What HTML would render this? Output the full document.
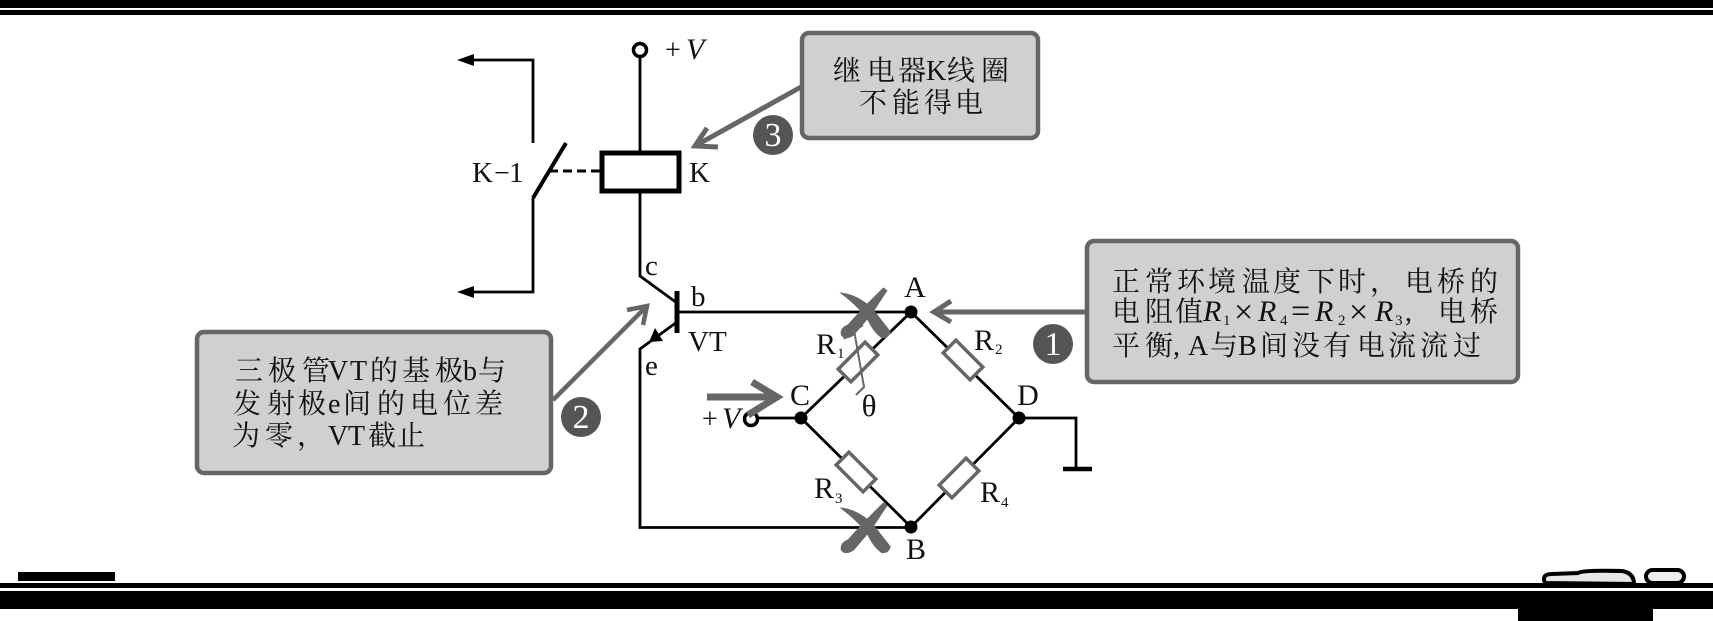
<!DOCTYPE html>
<html><head><meta charset="utf-8"><style>
html,body{margin:0;padding:0;background:#fff}
svg{display:block}
text{font-family:"Liberation Serif","Noto Serif CJK SC",serif;font-size:28px;fill:#111}
.w{fill:none;stroke:#000;stroke-width:2.8}
.g{fill:none;stroke:#666;stroke-width:5}
.box{fill:#d0d0d0;stroke:#666;stroke-width:4.5}
.r{fill:#fff;stroke:#666;stroke-width:3.5}
.s{font-size:15px}
.i{font-style:italic;font-size:30px}
.b{font-size:34px}
.n{fill:#fff;font-size:34px;text-anchor:middle}
.m{text-anchor:middle}
</style></head><body>
<svg width="1713" height="621" viewBox="0 0 1713 621" xmlns="http://www.w3.org/2000/svg">
<rect width="1713" height="621" fill="#fff"/>
<rect x="0" y="0" width="1713" height="8" fill="#000"/>
<rect x="0" y="10" width="1713" height="5" fill="#000"/>
<rect x="0" y="583" width="1713" height="5" fill="#000"/>
<rect x="0" y="591" width="1713" height="18" fill="#000"/>
<rect x="18" y="572" width="97" height="9" fill="#000"/>
<rect x="1518" y="609" width="135" height="12" fill="#000"/>
<path d="M1545,583 Q1541,574 1552,574 L1578,573 Q1582,570 1622,571 Q1634,573 1634,584 Z" fill="#e8e8e8" stroke="#000" stroke-width="4"/>
<rect x="1646" y="570" width="38" height="13" rx="6.5" fill="#eee" stroke="#000" stroke-width="4"/>

<circle cx="640" cy="50" r="6.5" fill="#fff" stroke="#000" stroke-width="3.5"/>
<path class="w" d="M640,57V276L677,303"/>
<text x="665" y="59">+</text><text x="686" y="59" class="i">V</text>
<rect x="602" y="153" width="77" height="38" fill="#fff" stroke="#000" stroke-width="5"/>
<text x="689" y="182" style="font-size:29px">K</text>
<text x="472" y="182" style="font-size:29px">K</text><text x="494" y="182">−</text><text x="509" y="182" style="font-size:29px">1</text>
<path d="M549,171H600" fill="none" stroke="#000" stroke-width="3" stroke-dasharray="9 5"/>
<path d="M566,143L533,198" fill="none" stroke="#000" stroke-width="4"/>
<path class="w" d="M533,143V60H472M533,198V292H472"/>
<path d="M457,60L474,54V66ZM457,292L474,286V298Z" fill="#000"/>

<text x="645" y="275" style="font-size:29px">c</text>
<text x="691" y="306" style="font-size:29px">b</text>
<text x="688" y="351" style="font-size:29px">VT</text>
<text x="645" y="375" style="font-size:29px">e</text>
<path d="M677,291V333" fill="none" stroke="#000" stroke-width="5"/>
<path class="w" d="M677,312H911M677,322L640,349V527.5H911"/>
<path d="M649,342L663,341L655,328Z" fill="#000"/>

<path class="w" d="M758,418H801L911,312L1019,418L911,527L801,418M1019,418H1076V469"/>
<path d="M1063,469H1092" stroke="#000" stroke-width="4.5" fill="none"/>
<circle cx="801" cy="418" r="6.5" fill="#000"/><circle cx="911" cy="312" r="6.5" fill="#000"/>
<circle cx="1019" cy="418" r="6.5" fill="#000"/><circle cx="911" cy="527" r="6.5" fill="#000"/>
<circle cx="751" cy="419" r="6.5" fill="#fff" stroke="#000" stroke-width="3.5"/>

<rect x="839" y="353" width="38" height="18" class="r" transform="rotate(-45 858 362)"/>
<rect x="944" y="351" width="38" height="18" class="r" transform="rotate(45 963 360)"/>
<rect x="837" y="463" width="38" height="18" class="r" transform="rotate(45 856 472)"/>
<rect x="940" y="469" width="38" height="18" class="r" transform="rotate(-45 959 478)"/>
<path d="M844,339L863,325M854,330L864,387L856,395" fill="none" stroke="#666" stroke-width="2"/>

<text x="816" y="354" style="font-size:30px">R</text><text x="837" y="358" class="s">1</text>
<text x="974" y="350" style="font-size:30px">R</text><text x="995" y="354" class="s">2</text>
<text x="814" y="498" style="font-size:30px">R</text><text x="835" y="503" class="s">3</text>
<text x="980" y="502" style="font-size:30px">R</text><text x="1001" y="507" class="s">4</text>
<text x="869" y="416" class="m" style="font-size:31px">θ</text>
<text x="915" y="297" class="m" style="font-size:30px">A</text>
<text x="800" y="405" class="m" style="font-size:30px">C</text>
<text x="1028" y="405" class="m" style="font-size:30px">D</text>
<text x="916" y="559" class="m" style="font-size:30px">B</text>
<text x="702" y="428">+</text><text x="722" y="428" class="i">V</text>

<g transform="translate(600,260) scale(.3333)" fill="#666" stroke="#666" stroke-width="4">
<g id="x">
<path d="M850,85L860,92L815,160L760,225Q735,240 725,225Q720,205 745,195L790,145Z"/>
<path d="M725,100Q770,105 815,145Q850,190 870,215Q865,235 845,232Q820,215 800,170Q765,130 725,100Z"/>
</g>
<use href="#x" y="645"/>
</g>

<path class="g" style="stroke-width:7" d="M707,397H775M752,382L777,397L748,415"/>

<rect x="802" y="33" width="236" height="105" rx="7" class="box"/>
<text x="833 867 898 926 947 981" y="80">继电器K线圈</text>
<text x="859 892 924 955" y="112">不能得电</text>
<path class="g" d="M801,87L695,146M718,147L695,146L707,128"/>
<circle cx="773" cy="135" r="20" fill="#555"/>
<text x="773" y="146" class="n">3</text>

<rect x="1087" y="241" width="431" height="141" rx="7" class="box"/>
<text x="1112 1145 1177 1208 1242 1273 1307 1338 1370 1405 1437 1470" y="291">正常环境温度下时，电桥的</text>
<text x="1112 1145 1175" y="321">电阻值</text>
<text x="1203" y="321" class="i">R</text><text x="1223" y="325" class="s">1</text>
<text x="1234" y="323" class="b">×</text>
<text x="1258" y="321" class="i">R</text><text x="1280" y="325" class="s">4</text>
<text x="1291" y="322" class="b">=</text>
<text x="1315" y="321" class="i">R</text><text x="1338" y="325" class="s">2</text>
<text x="1349" y="323" class="b">×</text>
<text x="1375" y="321" class="i">R</text><text x="1395" y="325" class="s">3</text>
<text x="1405" y="321">,</text>
<text x="1438 1470" y="321">电桥</text>
<text x="1112 1145 1173 1180 1188 1210 1238 1260 1292 1323 1357 1388 1420 1453" y="355">平衡, A与B间没有电流流过</text>
<path class="g" d="M1087,312H934M951,301L934,312L951,322"/>
<circle cx="1053" cy="344" r="20" fill="#555"/>
<text x="1053" y="355" class="n">1</text>

<rect x="197" y="332" width="354" height="141" rx="7" class="box"/>
<text x="235 268 302 328 350 370 402 435 463 478" y="380">三极管VT的基极b与</text>
<text x="233 267 298 328 343 377 410 443 475" y="413">发射极e间的电位差</text>
<text x="232 265 297 328 348 368 397" y="445">为零，VT截止</text>
<path class="g" style="stroke-width:4.5" d="M553,400L646,307M627,310L647,306L643,325"/>
<circle cx="581" cy="417" r="20" fill="#555"/>
<text x="581" y="428" class="n">2</text>
</svg>
</body></html>
